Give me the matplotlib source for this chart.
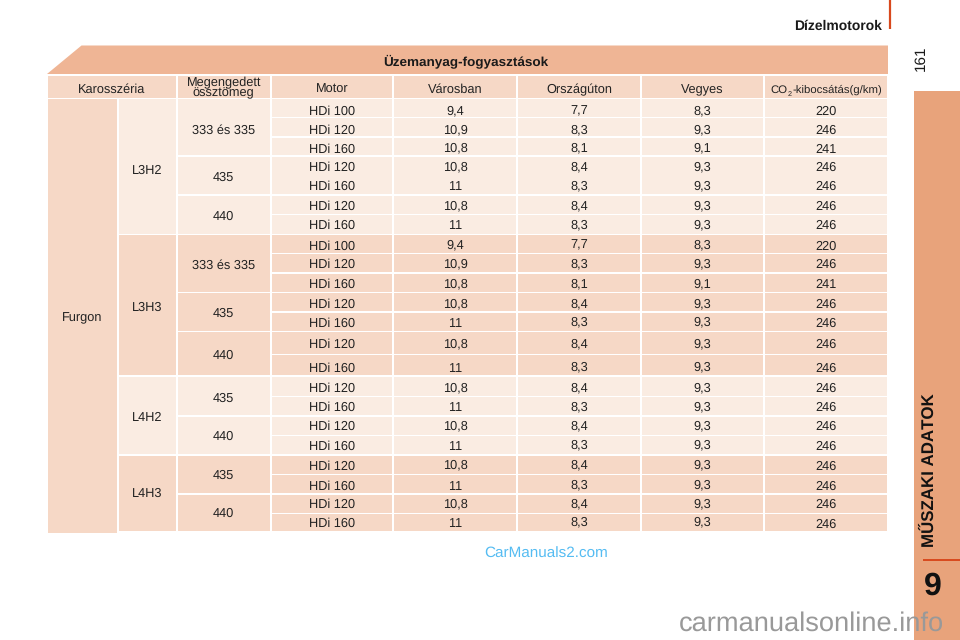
import matplotlib
matplotlib.use("Agg")
import matplotlib.pyplot as plt
from matplotlib.patches import Rectangle, Polygon

plt.rcParams['font.family'] = ['Liberation Sans', 'DejaVu Sans']
plt.rcParams['text.hinting'] = 'no_hinting'
plt.rcParams['text.hinting_factor'] = 8
plt.rcParams['text.kerning_factor'] = 6

# ---- content ----
title = "Üzemanyag-fogyasztások"
headers = ["Karosszéria", "Megengedett\nössztömeg", "Motor", "Városban", "Országúton", "Vegyes"]
co2_parts = ["CO", "2", "-kibocsátás(g/km)"]
body = "Furgon"

motor = ["HDi 100", "HDi 120", "HDi 160", "HDi 120", "HDi 160", "HDi 120", "HDi 160",
         "HDi 100", "HDi 120", "HDi 160", "HDi 120", "HDi 160", "HDi 120", "HDi 160",
         "HDi 120", "HDi 160", "HDi 120", "HDi 160",
         "HDi 120", "HDi 160", "HDi 120", "HDi 160"]
varosban = ["9,4", "10,9", "10,8", "10,8", "11", "10,8", "11",
            "9,4", "10,9", "10,8", "10,8", "11", "10,8", "11",
            "10,8", "11", "10,8", "11",
            "10,8", "11", "10,8", "11"]
orszaguton = ["7,7", "8,3", "8,1", "8,4", "8,3", "8,4", "8,3",
              "7,7", "8,3", "8,1", "8,4", "8,3", "8,4", "8,3",
              "8,4", "8,3", "8,4", "8,3",
              "8,4", "8,3", "8,4", "8,3"]
vegyes = ["8,3", "9,3", "9,1", "9,3", "9,3", "9,3", "9,3",
          "8,3", "9,3", "9,1", "9,3", "9,3", "9,3", "9,3",
          "9,3", "9,3", "9,3", "9,3",
          "9,3", "9,3", "9,3", "9,3"]
co2 = ["220", "246", "241", "246", "246", "246", "246",
       "220", "246", "241", "246", "246", "246", "246",
       "246", "246", "246", "246",
       "246", "246", "246", "246"]

# (label, first row, last row)
body_groups = [("L3H2", 0, 6), ("L3H3", 7, 13), ("L4H2", 14, 17), ("L4H3", 18, 21)]
mass_groups = [("333 és 335", 0, 2), ("435", 3, 4), ("440", 5, 6),
               ("333 és 335", 7, 9), ("435", 10, 11), ("440", 12, 13),
               ("435", 14, 15), ("440", 16, 17),
               ("435", 18, 19), ("440", 20, 21)]

# ---- layout (pixels) ----
col_left = [47.5, 118.5, 177.5, 271.5, 394, 518, 641.5, 765]
col_right = [116.7, 175.7, 270, 392.3, 516, 640, 763, 887]
row_edges = [98.5, 118, 137.5, 156.5, 176, 195.5, 215, 235, 254, 273.5, 293, 312.5, 332,
             355, 376.5, 397, 416.5, 436, 455.5, 475, 494.5, 514, 532.5]
row_text_y = [110.5, 129.7, 148, 166.7, 185.7, 205.3, 224.7, 245, 263.7, 283.7, 303.7, 322,
              343.7, 367, 387.3, 406.7, 425.7, 445, 465, 485, 503.7, 522]
body_text_y = [169, 306.7, 416, 492.7]
mass_text_y = [129, 176.7, 215.7, 264, 312.7, 354, 397, 435.3, 474, 512]
no_line_after = {3}   # rows merged with the following one

LIGHT = "#FAECE2"
DARK = "#F6D8C6"
BAND = "#EFB595"
SIDE = "#E8A37B"
RED = "#D8491D"
INK = "#222222"
GAP = 1.2
FS = 9.2

fig = plt.figure(figsize=(9.6, 6.4), dpi=100)
ax = fig.add_axes([0, 0, 1, 1])
ax.set_xlim(0, 960)
ax.set_ylim(640, 0)
ax.axis("off")


def cell(x0, x1, y0, y1, color):
    ax.add_patch(Rectangle((x0, y0), x1 - x0, y1 - y0, fc=color, ec="none", zorder=1))


def label(x, y, s, size=FS, **kw):
    """Place text with its cap height centred on y; the comma's descent moves agg's
    bitmap down by about a pixel, so such strings are lifted to share the baseline."""
    kw.setdefault("color", INK)
    lift = 0.9 if "," in s else 0
    return ax.text(x, y + 0.36 * size * 100 / 72 - lift, s, fontsize=size,
                   ha=kw.pop("ha", "center"), va="baseline", zorder=3, **kw)


def mid(c):
    return (col_left[c] + col_right[c]) / 2


# title band
ax.add_patch(Polygon([(47, 74), (81.5, 45.5), (888, 45.5), (888, 74)], closed=True,
                     fc=BAND, ec="none", zorder=1))
label(466, 60.5, title, size=9.7, fontweight="bold", color="#1a1a1a")

# header row
head_spans = [(col_left[0], col_right[1])] + [(col_left[i], col_right[i]) for i in range(2, 8)]
for x0, x1 in head_spans:
    cell(x0, x1, 75.7, 97.7, DARK)
label((col_left[0] + col_right[1]) / 2, 88.5, headers[0])
first, second = headers[1].split("\n")
label(mid(2), 81.7, first)
label(mid(2), 91.5, second)
for i, h in enumerate(headers[2:], start=3):
    label(mid(i), 88.5, h)

# CO2 header: three adjoining pieces so the 2 can sit as a subscript
renderer = fig.canvas.get_renderer()
cursor = 770.7
for part, size, dy in zip(co2_parts, [8.2, 5.2, 8.2], [88.5, 93.3, 88.5]):
    piece = label(cursor, dy, part, size=size, ha="left")
    cursor += piece.get_window_extent(renderer).width + 0.3

# first column
cell(col_left[0], col_right[0], row_edges[0], row_edges[-1], DARK)
label(81.7, 316.7, body)

# body-type and mass groups, coloured alternately
for g, (name, a, b) in enumerate(body_groups):
    color = LIGHT if g % 2 == 0 else DARK
    cell(col_left[1], col_right[1], row_edges[a], row_edges[b + 1] - GAP, color)
    label(mid(1), body_text_y[g], name)
    for c in range(3, 8):
        r = a
        while r <= b:
            s = r
            while s in no_line_after:
                s += 1
            cell(col_left[c], col_right[c], row_edges[r], row_edges[s + 1] - GAP, color)
            r = s + 1

for m, (name, a, b) in enumerate(mass_groups):
    color = DARK if a >= 18 or 7 <= a <= 13 else LIGHT
    cell(col_left[2], col_right[2], row_edges[a], row_edges[b + 1] - GAP, color)
    label(mid(2), mass_text_y[m], name)

# row text
for r, y in enumerate(row_text_y):
    label(mid(3), y, motor[r])
    label(mid(4), y, varosban[r])
    label(mid(5), y, orszaguton[r])
    label(mid(6), y, vegyes[r])
    label(mid(7), y + (1.3 if r == 21 else 0), co2[r])

# page furniture
ax.plot([889.7, 889.7], [0, 29], color=RED, lw=1.6, zorder=2, solid_capstyle="butt")
label(882, 24.5, "Dízelmotorok", size=10, fontweight="bold", ha="right", color="#1a1a1a")
ax.text(920.5, 58.5, "161", fontsize=11, rotation=90, ha="center", va="center", color="#1a1a1a", zorder=3)
ax.add_patch(Rectangle((914.3, 91), 46, 549, fc=SIDE, ec="none", zorder=1))
ax.plot([923, 960], [559.5, 559.5], color=RED, lw=1.4, zorder=2, solid_capstyle="butt")
ax.text(929.5, 470, "MŰSZAKI ADATOK", fontsize=12.2, fontweight="bold", rotation=90, ha="center",
        va="center", color="#111111", zorder=3)
label(932.7, 583.5, "9", size=23, fontweight="bold", color="#111111")

# watermarks
label(546, 552, "CarManuals2.com", size=11, color="#55BCF2")
ax.text(811.5, 624, "carmanualsonline.info", fontsize=19.6, color="#999999", ha="center",
        va="center", zorder=4)

fig.savefig("out.png", dpi=100)
